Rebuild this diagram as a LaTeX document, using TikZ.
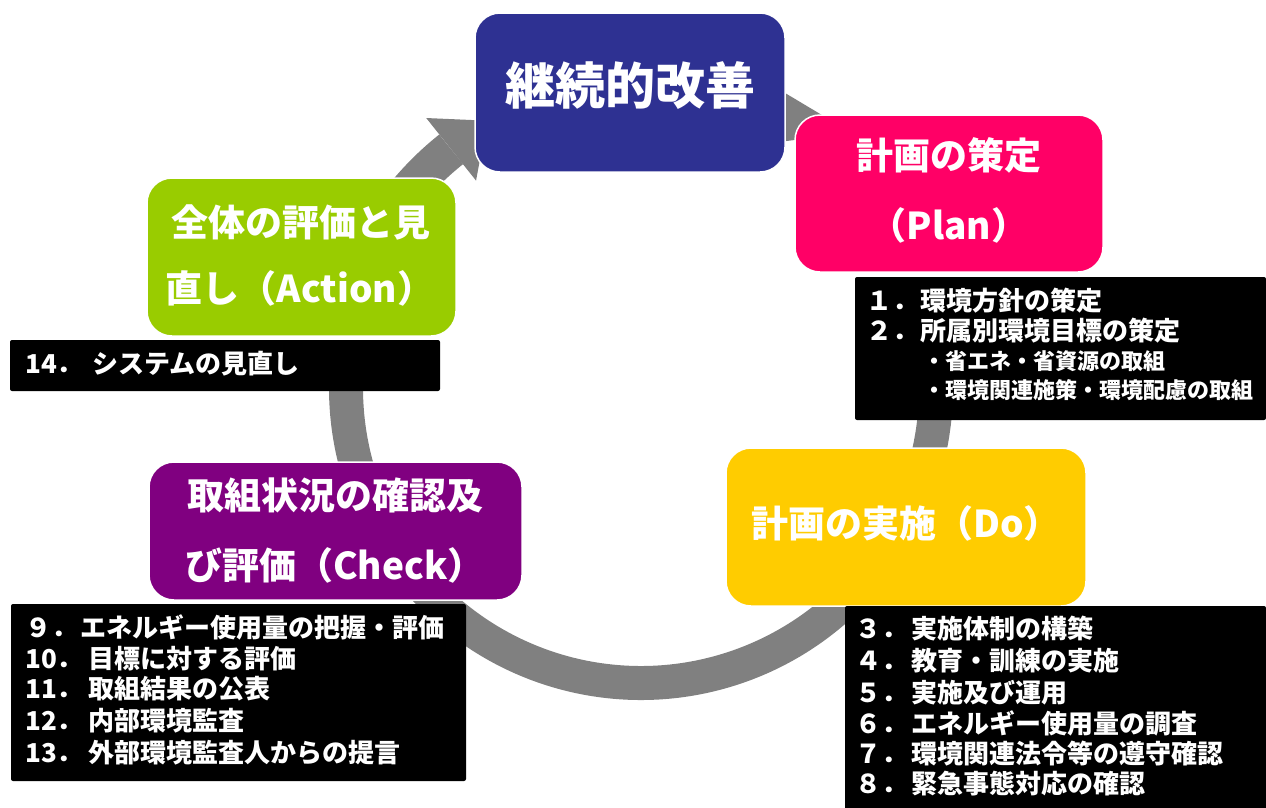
\documentclass[tikz,border=0pt]{standalone}
\usepackage{fontspec}
\newfontfamily\jp{Noto Sans CJK JP}
\usetikzlibrary{calc}
\definecolor{cblue}{RGB}{46,49,146}
\definecolor{cpink}{RGB}{255,0,102}
\definecolor{cyellow}{RGB}{255,204,0}
\definecolor{cpurple}{RGB}{128,0,128}
\definecolor{cgreen}{RGB}{153,204,0}
\definecolor{cgray}{RGB}{128,128,128}
\begin{document}
\begin{tikzpicture}[x=1pt,y=-1pt,
  phase/.style={draw=white, line width=1.5pt, rounded corners=25pt, inner sep=0pt},
  listbox/.style={fill=black, rounded corners=2pt, inner sep=0pt},
  ring/.style={draw=cgray, line width=34pt},
  big/.style={text=white, font=\jp\bfseries\fontsize{37}{44}\selectfont, anchor=base, inner sep=0pt},
  huge/.style={big, font=\jp\bfseries\fontsize{50}{60}\selectfont},
  item/.style={text=white, font=\jp\bfseries\fontsize{26}{31}\selectfont, anchor=base west, inner sep=0pt},
  subitem/.style={item, font=\jp\bfseries\fontsize{22}{27}\selectfont},
]
\fill[white] (0,0) rectangle (1266,807);
\useasboundingbox (0,0) rectangle (1266,807);
\coordinate (C) at (641,388);

% ring segments
\draw[ring] ($(C)+(0:295pt)$) arc[start angle=0, end angle=-20, radius=295pt];
\draw[ring] ($(C)+(-40:295pt)$) arc[start angle=-40, end angle=-140, radius=295pt];
\draw[ring] ($(C)+(200:295pt)$) arc[start angle=200, end angle=174, radius=295pt];
\draw[draw=cgray, line width=38pt] ($(C)+(160:305pt)$) arc[start angle=160, end angle=128.5, radius=305pt];
% arrowheads
\fill[cgray] ($(C)+(128.5:345pt)$) -- ($(C)+(128.5:305pt)+(38.5:46pt)$) -- ($(C)+(128.5:265pt)$) -- cycle;
\fill[cgray] (770,84) -- (852,133) -- (770,143) -- cycle;

% phase boxes
\node[phase, fill=cblue, minimum width=310pt, minimum height=159pt] (kaizen) at (630,92.5) {};
\node[phase, fill=cpink, minimum width=308pt, minimum height=157pt] (plan) at (949,193.5) {};
\node[phase, fill=cyellow, minimum width=360pt, minimum height=158pt] (do) at (906,527) {};
\node[phase, fill=cpurple, minimum width=373pt, minimum height=138pt] (check) at (335.5,531) {};
\node[phase, fill=cgreen, minimum width=309pt, minimum height=158pt] (action) at (301.5,257) {};

% list boxes
\node[listbox, minimum width=411pt, minimum height=143pt] (planlist) at (1060.5,348.5) {};
\node[listbox, minimum width=421pt, minimum height=205pt] (dolist) at (1055.5,708.5) {};
\node[listbox, minimum width=455pt, minimum height=177pt] (checklist) at (238.5,692.5) {};
\node[listbox, minimum width=430pt, minimum height=51pt] (actlist) at (225,365.5) {};

% phase texts
\node[huge] (kaizenT) at (630,104) {継続的改善};
\node[big] (planT1) at (949,169) {計画の策定};
\node[big] (planT2) at (949,239) {（Plan）};
\node[big] (doT) at (906,537) {計画の実施（Do）};
\node[big] (checkT1) at (335,509) {取組状況の確認及};
\node[big] (checkT2) at (335,579) {び評価（Check）};
\node[big] (actT1) at (301,236) {全体の評価と見};
\node[big] (actT2) at (300,302) {直し（Action）};

% plan list
\node[item] (p1) at (866,310) {\makebox[54pt][l]{１．}環境方針の策定};
\node[item] (p2) at (866,340) {\makebox[54pt][l]{２．}所属別環境目標の策定};
\node[subitem] (p3) at (923,369.5) {・省エネ・省資源の取組};
\node[subitem] (p4) at (923,398.5) {・環境関連施策・環境配慮の取組};

% do list
\node[item] (d3) at (855,638) {\makebox[56pt][l]{３．}実施体制の構築};
\node[item] (d4) at (855,670) {\makebox[56pt][l]{４．}教育・訓練の実施};
\node[item] (d5) at (855,702) {\makebox[56pt][l]{５．}実施及び運用};
\node[item] (d6) at (855,733) {\makebox[56pt][l]{６．}エネルギー使用量の調査};
\node[item] (d7) at (855,763) {\makebox[56pt][l]{７．}環境関連法令等の遵守確認};
\node[item] (d8) at (855,793) {\makebox[56pt][l]{８．}緊急事態対応の確認};

% check list
\node[item] (c9) at (25,637) {\makebox[55pt][l]{９．}エネルギー使用量の把握・評価};
\node[item] (c10) at (25,668) {\makebox[63pt][l]{10．}目標に対する評価};
\node[item] (c11) at (25,698) {\makebox[63pt][l]{11．}取組結果の公表};
\node[item] (c12) at (25,730) {\makebox[63pt][l]{12．}内部環境監査};
\node[item] (c13) at (25,762) {\makebox[63pt][l]{13．}外部環境監査人からの提言};

% action list
\node[item] (a14) at (25,373) {\makebox[67pt][l]{14．}システムの見直し};
\end{tikzpicture}
\end{document}
